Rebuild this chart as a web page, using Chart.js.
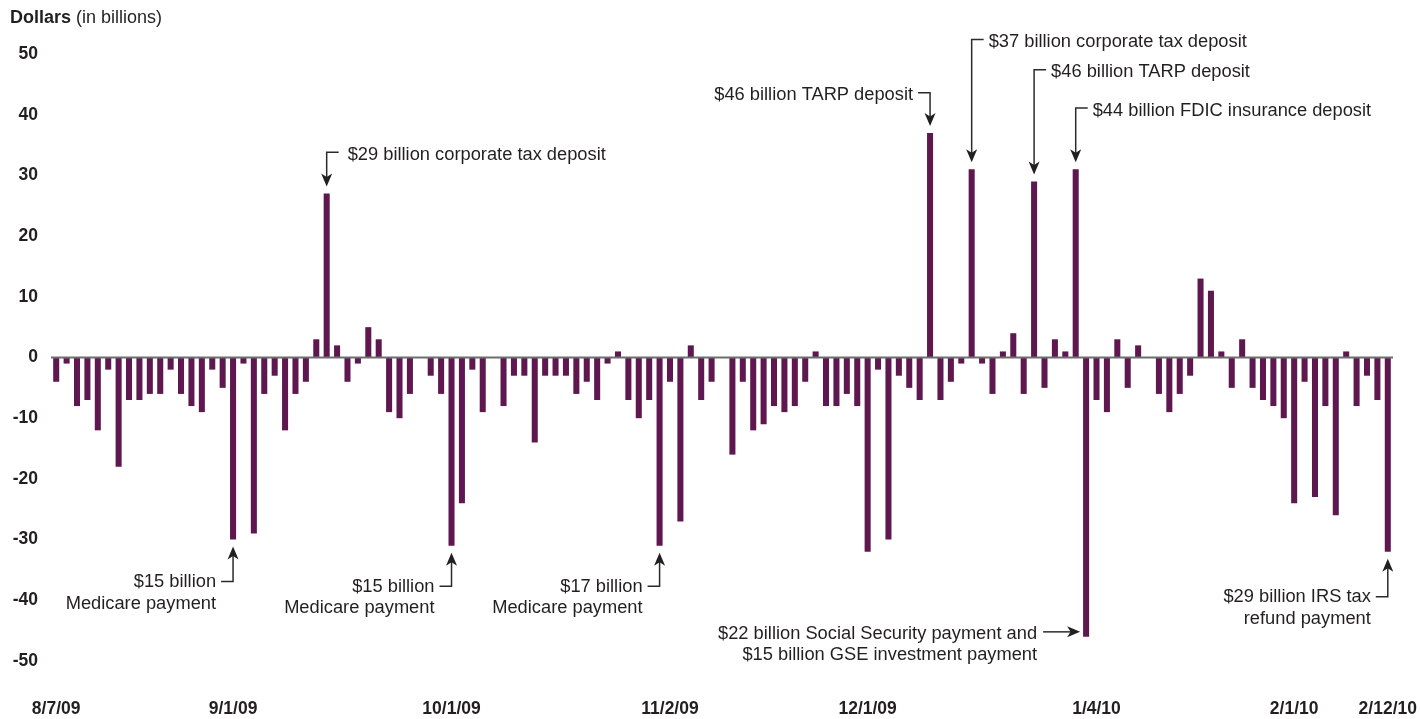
<!DOCTYPE html>
<html>
<head>
<meta charset="utf-8">
<title>Daily net Treasury cash flow</title>
<script src="https://cdn.jsdelivr.net/npm/chart.js@4.4.1/dist/chart.umd.min.js"></script>
<style>
  html, body { margin: 0; padding: 0; background: #fff; }
  #wrap { width: 1420px; height: 719px; position: relative; }
</style>
</head>
<body>
<div id="wrap"><canvas id="flowChart"></canvas></div>
<script>
// business days, 8/7/09 - 2/12/10
const dates = [
    '8/7/09',
    '8/10/09', '8/11/09', '8/12/09', '8/13/09', '8/14/09',
    '8/17/09', '8/18/09', '8/19/09', '8/20/09', '8/21/09',
    '8/24/09', '8/25/09', '8/26/09', '8/27/09', '8/28/09',
    '8/31/09', '9/1/09', '9/2/09', '9/3/09', '9/4/09',
    '9/8/09', '9/9/09', '9/10/09', '9/11/09',
    '9/14/09', '9/15/09', '9/16/09', '9/17/09', '9/18/09',
    '9/21/09', '9/22/09', '9/23/09', '9/24/09', '9/25/09',
    '9/28/09', '9/29/09', '9/30/09', '10/1/09', '10/2/09',
    '10/5/09', '10/6/09', '10/7/09', '10/8/09', '10/9/09',
    '10/13/09', '10/14/09', '10/15/09', '10/16/09',
    '10/19/09', '10/20/09', '10/21/09', '10/22/09', '10/23/09',
    '10/26/09', '10/27/09', '10/28/09', '10/29/09', '10/30/09',
    '11/2/09', '11/3/09', '11/4/09', '11/5/09', '11/6/09',
    '11/9/09', '11/10/09', '11/12/09', '11/13/09',
    '11/16/09', '11/17/09', '11/18/09', '11/19/09', '11/20/09',
    '11/23/09', '11/24/09', '11/25/09', '11/27/09',
    '11/30/09', '12/1/09', '12/2/09', '12/3/09', '12/4/09',
    '12/7/09', '12/8/09', '12/9/09', '12/10/09', '12/11/09',
    '12/14/09', '12/15/09', '12/16/09', '12/17/09', '12/18/09',
    '12/21/09', '12/22/09', '12/23/09', '12/24/09',
    '12/28/09', '12/29/09', '12/30/09', '12/31/09',
    '1/4/10', '1/5/10', '1/6/10', '1/7/10', '1/8/10',
    '1/11/10', '1/12/10', '1/13/10', '1/14/10', '1/15/10',
    '1/19/10', '1/20/10', '1/21/10', '1/22/10',
    '1/25/10', '1/26/10', '1/27/10', '1/28/10', '1/29/10',
    '2/1/10', '2/2/10', '2/3/10', '2/4/10', '2/5/10',
    '2/8/10', '2/9/10', '2/10/10', '2/11/10', '2/12/10'
];

// net daily flow, dollars in billions
const netFlow = [
    -4, -1, -8, -7, -12, -2, -18, -7, -7, -6,
    -6, -2, -6, -8, -9, -2, -5, -30, -1, -29,
    -6, -3, -12, -6, -4, 3, 27, 2, -4, -1,
    5, 3, -9, -10, -6, 0, -3, -6, -31, -24,
    -2, -9, 0, -8, -3, -3, -14, -3, -3, -3,
    -6, -4, -7, -1, 1, -7, -10, -7, -31, -4,
    -27, 2, -7, -4, 0, -16, -4, -12, -11, -8,
    -9, -8, -4, 1, -8, -8, -6, -8, -32, -2,
    -30, -3, -5, -7, 37, -7, -4, -1, 31, -1,
    -6, 1, 4, -6, 29, -5, 3, 1, 31, -46,
    -7, -9, 3, -5, 2, 0, -6, -9, -6, -3,
    13, 11, 1, -5, 3, -5, -7, -8, -10, -24,
    -4, -23, -8, -26, 1, -8, -3, -7, -32
];

const tickDates = ['8/7/09', '9/1/09', '10/1/09', '11/2/09', '12/1/09', '1/4/10', '2/1/10', '2/12/10'];

const yMin = -50;
const yMax = 50;
const yStep = 10;

// callouts: which day, text, level of the elbow (in billions), how the arrow runs
const callouts = [
    { date: '9/15/09', lines: ['$29 billion corporate tax deposit'], level: 33.8, kind: 'down-right', gap: 21 },
    { date: '12/9/09', lines: ['$46 billion TARP deposit'], level: 43.6, kind: 'down-left', gap: 17 },
    { date: '12/15/09', lines: ['$37 billion corporate tax deposit'], level: 52.4, kind: 'down-right', gap: 17 },
    { date: '12/23/09', lines: ['$46 billion TARP deposit'], level: 47.4, kind: 'down-right', gap: 17 },
    { date: '12/30/09', lines: ['$44 billion FDIC insurance deposit'], level: 41.1, kind: 'down-right', gap: 17 },
    { date: '9/1/09', lines: ['$15 billion', 'Medicare payment'], level: -36.9, kind: 'up', gap: 17 },
    { date: '10/1/09', lines: ['$15 billion', 'Medicare payment'], level: -37.7, kind: 'up', gap: 17 },
    { date: '10/30/09', lines: ['$17 billion', 'Medicare payment'], level: -37.7, kind: 'up', gap: 17 },
    { date: '2/12/10', lines: ['$29 billion IRS tax', 'refund payment'], level: -39.4, kind: 'up', gap: 17 },
    { date: '12/31/09', lines: ['$22 billion Social Security payment and', '$15 billion GSE investment payment'], level: -45.2, kind: 'side', gap: 49 }
];

const FONT = "'Liberation Sans', Arial, Helvetica, sans-serif";
const BAR_COLOR = '#5e174f';
const TEXT_COLOR = '#231f20';
const TEXT_NUDGE = 2.5; // canvas 'middle' sits a bit high

function drawArrowHead(ctx, tipX, tipY, dirX, dirY) {
    // stealth-style head, dir = unit vector the arrow points to
    const len = 13, half = 5.5, notch = 3.5;
    const px = -dirY, py = dirX;
    const bx = tipX - dirX * len, by = tipY - dirY * len;
    ctx.beginPath();
    ctx.moveTo(tipX, tipY);
    ctx.lineTo(bx + px * half, by + py * half);
    ctx.lineTo(tipX - dirX * (len - notch), tipY - dirY * (len - notch));
    ctx.lineTo(bx - px * half, by - py * half);
    ctx.closePath();
    ctx.fill();
}

const overlayPlugin = {
    id: 'overlay',
    afterDatasetsDraw(chart) {
        const ctx = chart.ctx;
        const area = chart.chartArea;
        const yScale = chart.scales.y;
        const meta = chart.getDatasetMeta(0);

        ctx.save();

        // zero line over the bars
        const y0 = yScale.getPixelForValue(0);
        ctx.strokeStyle = '#6e6e6e';
        ctx.lineWidth = 2;
        ctx.beginPath();
        ctx.moveTo(area.left, y0);
        ctx.lineTo(area.right, y0);
        ctx.stroke();

        // title
        ctx.fillStyle = TEXT_COLOR;
        ctx.textBaseline = 'middle';
        ctx.textAlign = 'left';
        ctx.font = 'bold 18px ' + FONT;
        ctx.fillText('Dollars', 10, 18);
        const w = ctx.measureText('Dollars').width;
        ctx.font = '18px ' + FONT;
        ctx.fillText(' (in billions)', 10 + w, 18);

        // callouts
        ctx.font = '18.3px ' + FONT;
        ctx.strokeStyle = '#2b2b2b';
        ctx.fillStyle = TEXT_COLOR;
        ctx.lineWidth = 1.5;
        callouts.forEach(c => {
            const i = dates.indexOf(c.date);
            const bar = meta.data[i];
            const bx = bar.x;
            const end = bar.y;
            const ly = yScale.getPixelForValue(c.level);
            ctx.beginPath();
            if (c.kind === 'down-right' || c.kind === 'down-left') {
                const sign = c.kind === 'down-right' ? 1 : -1;
                const tipY = end - 7;
                ctx.moveTo(bx + sign * 12, ly);
                ctx.lineTo(bx, ly);
                ctx.lineTo(bx, tipY - 9);
                ctx.stroke();
                drawArrowHead(ctx, bx, tipY, 0, 1);
                ctx.textAlign = sign > 0 ? 'left' : 'right';
                ctx.fillText(c.lines[0], bx + sign * c.gap, ly + TEXT_NUDGE);
            } else if (c.kind === 'up') {
                const tipY = end + 7;
                ctx.moveTo(bx - 12, ly);
                ctx.lineTo(bx, ly);
                ctx.lineTo(bx, tipY + 9);
                ctx.stroke();
                drawArrowHead(ctx, bx, tipY, 0, -1);
                ctx.textAlign = 'right';
                c.lines.forEach((t, k) => ctx.fillText(t, bx - c.gap, ly + TEXT_NUDGE - 2 + k * 21.5));
            } else {
                const tipX = bx - 6;
                ctx.moveTo(bx - 43, ly);
                ctx.lineTo(tipX - 9, ly);
                ctx.stroke();
                drawArrowHead(ctx, tipX, ly, 1, 0);
                ctx.textAlign = 'right';
                c.lines.forEach((t, k) => ctx.fillText(t, bx - c.gap, ly + TEXT_NUDGE + k * 21));
            }
        });

        ctx.restore();
    }
};

const ctx = document.getElementById('flowChart').getContext('2d');
const chart = new Chart(ctx, {
    type: 'bar',
    data: {
        labels: dates,
        datasets: [{
            label: 'Net flow',
            data: netFlow,
            backgroundColor: BAR_COLOR,
            borderWidth: 0,
            barPercentage: 0.58,
            categoryPercentage: 1.0
        }]
    },
    options: {
        responsive: true,
        maintainAspectRatio: false,
        animation: false,
        layout: {
            padding: { left: 0, right: 27, top: 54, bottom: 0 }
        },
        plugins: {
            legend: { display: false },
            tooltip: { enabled: false },
            title: { display: false }
        },
        scales: {
            x: {
                grid: { display: false, drawTicks: false },
                border: { display: false },
                afterFit: function(scale) {
                    scale.height = 58;
                    scale.paddingLeft = 0;
                    scale.paddingRight = 0;
                },
                ticks: {
                    autoSkip: false,
                    maxRotation: 0,
                    minRotation: 0,
                    padding: 38,
                    color: TEXT_COLOR,
                    font: { family: FONT, size: 17.5, weight: 'bold' },
                    callback: function(value) {
                        const lbl = this.getLabelForValue(value);
                        return tickDates.includes(lbl) ? lbl : '';
                    }
                }
            },
            y: {
                min: yMin,
                max: yMax,
                grid: { display: false, drawTicks: false },
                border: { display: false },
                afterFit: function(scale) {
                    scale.width = 51;
                    scale.paddingTop = 0;
                    scale.paddingBottom = 0;
                },
                ticks: {
                    stepSize: yStep,
                    padding: 13,
                    color: TEXT_COLOR,
                    font: { family: FONT, size: 17.5, weight: 'bold' },
                    callback: function(value) {
                        return String(value);
                    }
                }
            }
        }
    },
    plugins: [overlayPlugin]
});
</script>
</body>
</html>
